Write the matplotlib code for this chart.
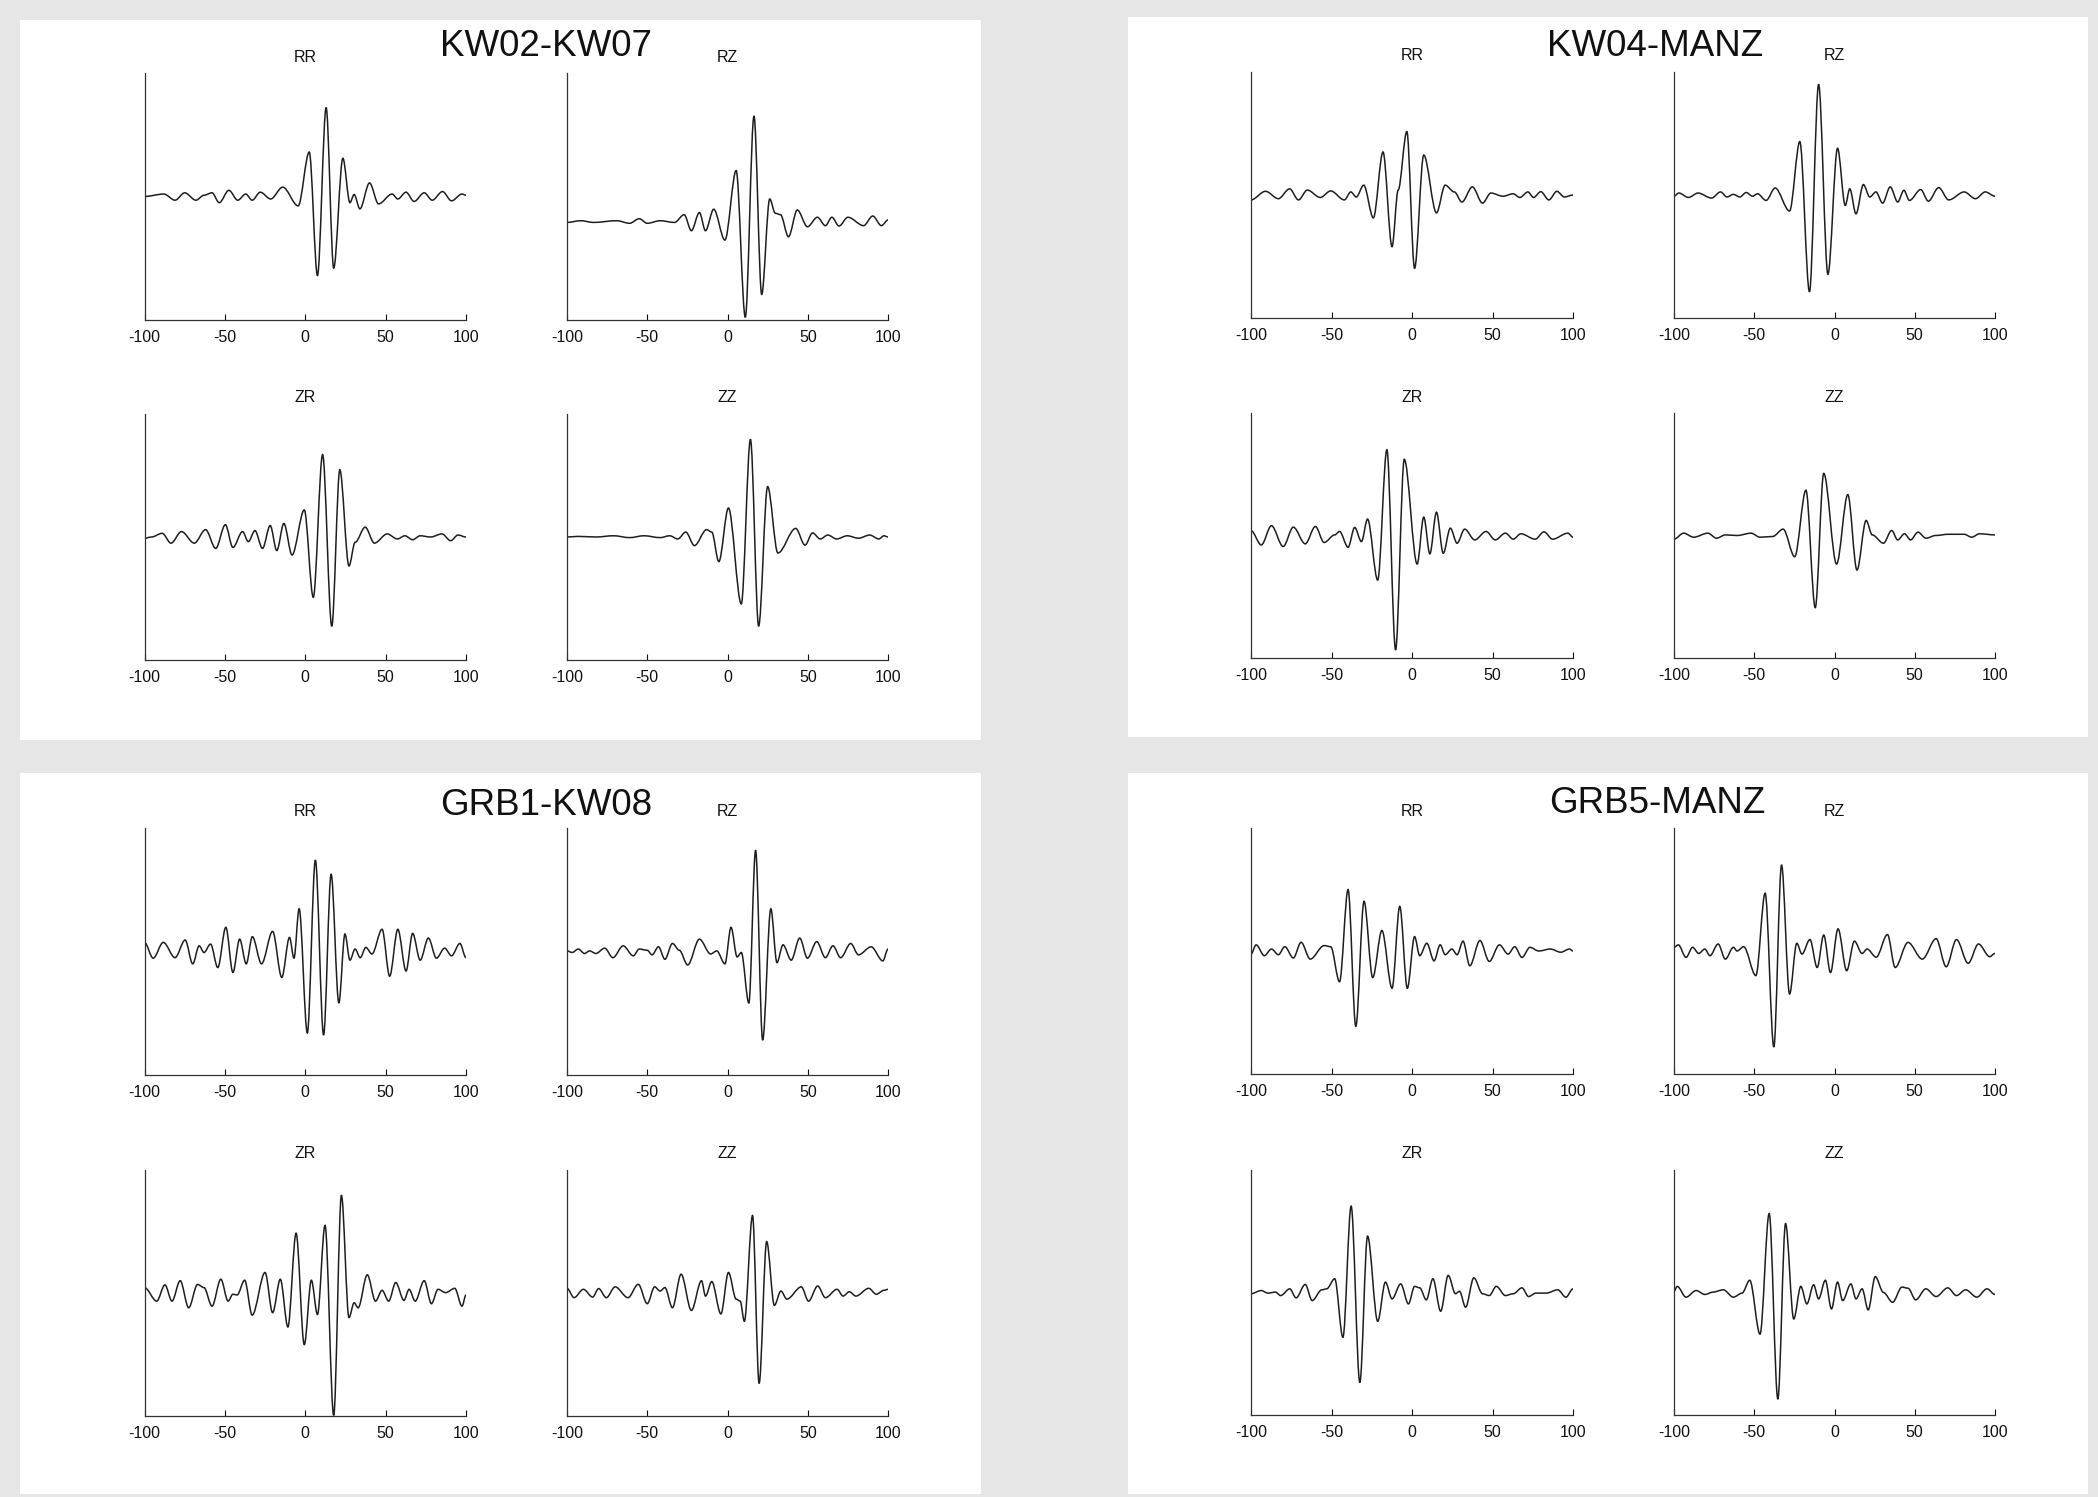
import matplotlib
matplotlib.use("Agg")
import matplotlib.pyplot as plt
from matplotlib.patches import Rectangle, PathPatch
from matplotlib.path import Path

plt.rcParams["font.family"] = ["Liberation Sans", "DejaVu Sans"]

# ── data: extrema of each cross-correlation trace (lag s, normalised amp) ──

pair_names = ["KW02-KW07", "KW04-MANZ", "GRB1-KW08", "GRB5-MANZ"]
comp_names = ["RR", "RZ", "ZR", "ZZ"]

kw02_kw07_rr_t = [-100, -88, -81, -75, -68, -63, -58, -53.5, -47.5, -42, -37, -33, -28, -21.5, -14, -4.4,
                  2.5, 7.6, 13, 17.7, 23.4, 27.8, 30.4, 34, 40, 45.6, 54, 57.6, 62.7, 67.7, 74, 79, 85.4, 91, 97.5, 100]
kw02_kw07_rr_a = [0, 0.02, -0.03, 0.03, -0.03, 0.01, 0.03, -0.05, 0.05, -0.03, 0.02, -0.03, 0.035, -0.02, 0.076, -0.076,
                  0.36, -0.64, 0.72, -0.58, 0.31, -0.05, 0.016, -0.10, 0.11, -0.06, 0.02, -0.02, 0.035, -0.04, 0.03, -0.03, 0.04, -0.035, 0.02, 0.01]

kw02_kw07_rz_t = [-100, -91.4, -83.5, -69, -61, -55, -50, -42, -33, -27, -22.5, -17.5, -13.7, -8.6, -1.6, 5.4, 11.1,
                  16.5, 21.3, 26.3, 29.8, 33, 38, 43.5, 49.8, 56, 61, 65, 69.5, 75, 84.8, 90.5, 95.9, 100]
kw02_kw07_rz_a = [-0.21, -0.196, -0.21, -0.196, -0.217, -0.18, -0.217, -0.196, -0.21, -0.147, -0.277, -0.13, -0.277, -0.103, -0.353, 0.21, -0.978,
                  0.652, -0.793, -0.02, -0.136, -0.147, -0.326, -0.109, -0.245, -0.168, -0.236, -0.168, -0.239, -0.168, -0.236, -0.158, -0.236, -0.19]

kw02_kw07_zr_t = [-100, -95.6, -89, -83.5, -77, -69, -62, -55.7, -49.7, -45, -39, -35.4, -31.3, -26.6, -21.8, -17.7, -13.3, -8.2,
                  -0.6, 5, 10.8, 16.5, 21.5, 27.2, 31, 37.3, 43, 51, 57.3, 62, 66.8, 71.5, 78, 85, 90.5, 95, 100]
kw02_kw07_zr_a = [-0.01, 0, 0.03, -0.05, 0.044, -0.05, 0.06, -0.093, 0.1, -0.085, 0.044, -0.038, 0.052, -0.093, 0.093, -0.11, 0.11, -0.146,
                  0.22, -0.49, 0.67, -0.725, 0.547, -0.236, -0.044, 0.08, -0.05, 0.025, -0.016, 0.01, -0.022, 0.01, 0, 0.025, -0.03, 0.016, 0]

kw02_kw07_zz_t = [-100, -93, -82, -71, -61, -52, -42, -36, -31, -26, -20.6, -13, -9.8, -5.4, 0.6, 8.6, 14.3, 19.4, 25,
                  31.4, 42.5, 48.3, 53, 57.8, 62.5, 68, 74.6, 81.6, 88.6, 94.3, 97.5, 100]
kw02_kw07_zz_a = [0, 0.005, 0, 0.01, -0.005, 0.01, -0.005, 0.01, -0.016, 0.04, -0.07, 0.06, 0.04, -0.2, 0.236, -0.544, 0.794, -0.725, 0.41,
                  -0.13, 0.07, -0.066, 0.033, -0.016, 0.016, -0.016, 0.01, -0.01, 0.016, -0.016, 0.01, 0]

kw04_manz_rr_t = [-100, -91, -83, -76, -70.5, -65, -57, -50.5, -42, -38, -34.6, -30, -24, -18, -12.4, -8.6, -3.2, 1.6, 7.3,
                  15.2, 20.6, 26.3, 31, 37.5, 43.8, 49, 56.5, 62.8, 67, 72, 75.5, 80, 85, 90, 94.6, 100]
kw04_manz_rr_a = [-0.04, 0.03, -0.03, 0.05, -0.04, 0.04, -0.02, 0.033, -0.04, 0.025, -0.016, 0.08, -0.186, 0.35, -0.42, 0.04, 0.516, -0.596, 0.325,
                  -0.145, 0.08, 0.025, -0.057, 0.066, -0.066, 0.016, -0.01, 0.01, -0.02, 0.025, -0.02, 0.027, -0.04, 0.03, -0.016, 0]

kw04_manz_rz_t = [-100, -97, -91, -85, -76.6, -71, -67, -63, -59, -55, -51, -48, -42.6, -37, -28, -21.6, -15.6, -9.9, -4.1, 1.9,
                  6.7, 9.5, 13.4, 18, 22, 25.8, 30, 34.7, 39.4, 43.2, 46.7, 53.7, 58.5, 64.9, 71.2, 80.8, 87.8, 94, 100]
kw04_manz_rz_a = [-0.01, 0.016, -0.02, 0.016, -0.025, 0.025, -0.016, 0.005, -0.016, 0.02, -0.01, 0.01, -0.044, 0.057, -0.13, 0.434, -0.787, 0.9, -0.645, 0.38,
                  -0.085, 0.05, -0.153, 0.085, -0.016, 0.025, -0.066, 0.066, -0.057, 0.038, -0.044, 0.044, -0.05, 0.06, -0.04, 0.025, -0.03, 0.025, -0.01]

kw04_manz_zr_t = [-100, -93.6, -87.3, -80, -73.7, -66.3, -60, -54.6, -48, -45, -39.7, -35.6, -31.4, -27.6, -21.3, -15.6, -10.2, -4.8,
                  3.2, 7.3, 11.1, 15.2, 19.4, 23.8, 28, 32.7, 39, 46, 51.7, 58, 62.9, 67.6, 76.5, 82, 87.3, 96.8, 100]
kw04_manz_zr_a = [0.04, -0.077, 0.08, -0.09, 0.068, -0.068, 0.074, -0.057, 0.005, 0.033, -0.096, 0.066, -0.05, 0.134, -0.364, 0.7, -0.934, 0.622,
                  -0.233, 0.15, -0.15, 0.19, -0.145, 0.06, -0.063, 0.052, -0.036, 0.033, -0.036, 0.019, -0.03, 0.014, -0.03, 0.03, -0.03, 0.019, -0.014]

kw04_manz_zz_t = [-100, -94, -87.8, -78.9, -73.5, -68, -60.7, -52, -46.4, -38.5, -32, -24.8, -17.8, -12, -6.7, 1.3, 8.3, 14,
                  19.7, 23.5, 30.5, 35.6, 39.4, 43.6, 47.4, 52, 57, 63, 71, 80.8, 85.5, 90.3, 100]
kw04_manz_zz_a = [-0.03, 0.019, -0.014, 0.019, -0.022, 0.005, 0, 0.019, -0.014, -0.008, 0.052, -0.173, 0.37, -0.589, 0.507, -0.233, 0.334, -0.282,
                  0.123, 0.005, -0.063, 0.041, -0.036, 0.014, -0.036, 0.027, -0.022, 0, 0.01, 0.01, -0.014, 0.014, 0.005]

grb1_kw08_rr_t = [-100, -94.6, -88.3, -81, -74.7, -70, -66, -63, -58.9, -54.4, -49.4, -45, -40.8, -36.7, -32.9, -27.2, -20.3, -14.6, -9.8, -7, -3.8,
                  1.3, 6.3, 11.4, 16.1, 20.9, 24.7, 27.8, 31, 34.2, 37.7, 41.5, 47.8, 52.5, 57.6, 62.7, 66.8, 71.5, 76.6, 81.6, 86.7, 91, 96.2, 100]
grb1_kw08_rr_a = [0.074, -0.054, 0.074, -0.05, 0.093, -0.1, 0.046, -0.008, 0.06, -0.13, 0.196, -0.17, 0.1, -0.1, 0.12, -0.1, 0.163, -0.21, 0.114, -0.054, 0.346,
                  -0.66, 0.74, -0.676, 0.627, -0.417, 0.142, -0.07, 0.02, -0.05, 0.033, -0.02, 0.18, -0.2, 0.18, -0.158, 0.147, -0.07, 0.109, -0.054, 0.027, -0.035, 0.065, -0.05]

grb1_kw08_rz_t = [-100, -96.8, -93, -89, -86, -82, -76.5, -71.4, -65, -58.7, -55, -50, -47, -43, -39, -34.3, -30, -24.8, -17.5, -10.5, -6.7, -1.6, 2.2,
                  6, 8.6, 13.3, 17.5, 21.9, 27, 30.8, 34.6, 39.7, 45, 49.8, 55.6, 61, 65.7, 70.5, 76.8, 81.6, 89.5, 96.8, 100]
grb1_kw08_rz_a = [0.005, -0.008, 0.02, -0.016, 0.005, -0.016, 0.027, -0.05, 0.046, -0.035, 0.02, 0.01, -0.027, 0.038, -0.063, 0.065, 0.01, -0.109, 0.1, -0.02, 0.005, -0.1, 0.196,
                  -0.044, -0.008, -0.417, 0.82, -0.717, 0.346, -0.09, 0.054, -0.07, 0.109, -0.054, 0.08, -0.05, 0.046, -0.05, 0.065, -0.027, 0.038, -0.076, 0.02]

grb1_kw08_zr_t = [-100, -92.4, -87.3, -82.9, -77.8, -72.5, -67, -63, -58, -52.5, -48, -45, -42.4, -37.7, -33, -25, -20.3, -15.5, -10.8, -5.7, -0.6,
                  3.8, 7.6, 12.3, 17.7, 22.5, 27.2, 30.4, 32.9, 38.6, 43.7, 47.8, 51.9, 56.3, 61.4, 64.6, 68.4, 74, 78.5, 82.6, 87.3, 93, 97.5, 100]
grb1_kw08_zr_a = [0.044, -0.066, 0.066, -0.066, 0.1, -0.12, 0.07, 0.044, -0.107, 0.112, -0.066, -0.01, -0.016, 0.104, -0.18, 0.167, -0.16, 0.112, -0.276, 0.486, -0.42,
                  0.104, -0.175, 0.55, -0.995, 0.795, -0.2, -0.08, -0.12, 0.148, -0.066, 0.022, -0.066, 0.085, -0.06, 0.03, -0.066, 0.1, -0.087, 0.03, 0.003, 0.038, -0.107, -0.016]

grb1_kw08_zz_t = [-100, -95.6, -89.8, -84, -80.3, -75.5, -70, -62, -55.6, -50, -45.4, -42, -39, -34.3, -28.9, -22.5, -16.2, -13.7, -9.8, -4.1, 0.6,
                  5.4, 7.9, 10.5, 15.6, 19.7, 24.4, 29.2, 33.3, 37, 46, 50.5, 56.2, 61, 68.3, 72, 75.9, 80, 88, 92.7, 97.5, 100]
grb1_kw08_zz_a = [0.038, -0.038, 0.03, -0.033, 0.036, -0.038, 0.05, -0.038, 0.071, -0.087, 0.05, 0.016, 0.044, -0.12, 0.153, -0.142, 0.1, -0.025, 0.093, -0.17, 0.167,
                  -0.05, -0.066, -0.23, 0.63, -0.735, 0.418, -0.1, 0.016, -0.05, 0.05, -0.066, 0.057, -0.038, 0.03, -0.025, 0.01, -0.025, 0.038, -0.01, 0.022, 0.03]

grb5_manz_rr_t = [-100, -96.8, -91.7, -87.3, -83, -79, -73.7, -68.9, -63.2, -54.6, -50.5, -45, -39.7, -34.9, -29.8, -24.4, -18.7, -12.4, -7.6, -2.9,
                  1.6, 4.8, 9.2, 13.7, 17.5, 20.6, 24.8, 28, 31.7, 35.9, 42.2, 48, 54.3, 59.7, 63.8, 68.3, 73.3, 78.7, 86, 92.4, 97.8, 100]
grb5_manz_rr_a = [-0.025, 0.05, -0.038, 0.016, -0.03, 0.035, -0.057, 0.071, -0.066, 0.044, 0.035, -0.25, 0.5, -0.612, 0.404, -0.216, 0.167, -0.303, 0.363, -0.303,
                  0.117, -0.038, 0.063, -0.08, 0.05, -0.03, 0.016, -0.03, 0.08, -0.12, 0.085, -0.085, 0.05, -0.025, 0.035, -0.052, 0.03, 0, 0.016, -0.01, 0.016, 0]

grb5_manz_rz_t = [-100, -97.3, -92.5, -88.4, -84.6, -80.8, -77.6, -72.5, -68, -63, -60.7, -56.6, -49, -43.2, -37.8, -33, -28, -23.5, -20.3, -15.3,
                  -10.8, -6.7, -2.5, 2.2, 7.6, 12.4, 17.2, 20.3, 26, 33, 37.8, 45.8, 54.7, 63.3, 69.6, 76, 83.3, 89.7, 96.7, 100]
grb5_manz_rz_a = [0.03, 0.05, -0.052, 0.03, -0.02, 0.016, -0.038, 0.057, -0.066, 0.03, 0, 0.035, -0.2, 0.47, -0.78, 0.7, -0.35, 0.063, -0.025, 0.093,
                  -0.134, 0.13, -0.175, 0.18, -0.16, 0.08, -0.02, 0.016, -0.05, 0.134, -0.134, 0.07, -0.066, 0.1, -0.128, 0.093, -0.1, 0.057, -0.046, -0.02]

grb5_manz_zr_t = [-100, -93.7, -89.5, -84.8, -81.6, -75.9, -72, -66.3, -62, -56, -53, -48, -42.9, -37.8, -32.4, -27.6, -21.3, -16.5, -12.4, -7, -2.2,
                  1.6, 4.8, 8.9, 13, 17.8, 22.5, 27, 29.5, 33.3, 38.4, 43.8, 48, 52.4, 58, 62.9, 68.3, 72.4, 77, 83.5, 90.5, 95.6, 100]
grb5_manz_zr_a = [-0.01, 0.016, -0.005, 0.003, -0.025, 0.03, -0.044, 0.066, -0.066, 0.022, 0.03, 0.112, -0.366, 0.705, -0.735, 0.46, -0.235, 0.085, -0.052, 0.07, -0.093,
                  0.05, 0.038, -0.06, 0.112, -0.153, 0.14, -0.01, 0.01, -0.12, 0.12, -0.01, -0.025, 0.05, -0.025, -0.01, 0.038, -0.033, -0.005, -0.005, 0.022, -0.038, 0.03]

grb5_manz_zz_t = [-100, -98, -92.5, -86.2, -80.8, -75.7, -69.3, -63, -57.6, -52.8, -46.4, -40.7, -35.3, -30.5, -25.4, -21, -17.2, -13, -9.9, -5.7, -1.9,
                  1.9, 5.1, 10.2, 13.4, 17.2, 21, 25.4, 30.5, 36.2, 42, 45.8, 50.6, 56.9, 63.3, 70.6, 76, 81.7, 88.7, 95, 100]
grb5_manz_zz_a = [0.01, 0.05, -0.038, 0.016, -0.016, 0.003, 0.022, -0.038, -0.005, 0.1, -0.34, 0.645, -0.87, 0.563, -0.216, 0.05, -0.093, 0.063, -0.052, 0.1, -0.134,
                  0.085, -0.066, 0.07, -0.052, 0.03, -0.142, 0.13, 0, -0.08, 0.044, 0.035, -0.06, 0.03, -0.033, 0.038, -0.025, 0.022, -0.038, 0.03, -0.016]

x_ticks = [-100, -50, 0, 50, 100]
x_tick_labels = ["-100", "-50", "0", "50", "100"]

traces = {
    "KW02-KW07": [(kw02_kw07_rr_t, kw02_kw07_rr_a), (kw02_kw07_rz_t, kw02_kw07_rz_a),
                  (kw02_kw07_zr_t, kw02_kw07_zr_a), (kw02_kw07_zz_t, kw02_kw07_zz_a)],
    "KW04-MANZ": [(kw04_manz_rr_t, kw04_manz_rr_a), (kw04_manz_rz_t, kw04_manz_rz_a),
                  (kw04_manz_zr_t, kw04_manz_zr_a), (kw04_manz_zz_t, kw04_manz_zz_a)],
    "GRB1-KW08": [(grb1_kw08_rr_t, grb1_kw08_rr_a), (grb1_kw08_rz_t, grb1_kw08_rz_a),
                  (grb1_kw08_zr_t, grb1_kw08_zr_a), (grb1_kw08_zz_t, grb1_kw08_zz_a)],
    "GRB5-MANZ": [(grb5_manz_rr_t, grb5_manz_rr_a), (grb5_manz_rz_t, grb5_manz_rz_a),
                  (grb5_manz_zr_t, grb5_manz_zr_a), (grb5_manz_zz_t, grb5_manz_zz_a)],
}

# ── layout (pixels) ──────────────────────────────────────────
W, H = 2098, 1497

# panel box: left, top, right, bottom; col x-ranges; row y-ranges; title centre
panels = {
    "KW02-KW07": dict(box=(20, 20, 981, 740), cols=[(144.5, 466), (567, 888)],
                      rows=[(73, 320), (414, 660)], title=(546, 47)),
    "KW04-MANZ": dict(box=(1128, 17, 2088, 737), cols=[(1251, 1573), (1674, 1995)],
                      rows=[(72, 318), (413, 658)], title=(1655, 47)),
    "GRB1-KW08": dict(box=(20, 773, 981, 1494), cols=[(144.5, 466), (567, 888)],
                      rows=[(828, 1075), (1170, 1416)], title=(546, 806)),
    "GRB5-MANZ": dict(box=(1128, 773, 2088, 1494), cols=[(1251, 1573), (1674, 1995)],
                      rows=[(828, 1074), (1170, 1415)], title=(1657, 803)),
}


def fx(x):
    return x / W


def fy(y):
    return 1 - y / H


def smooth_trace(ax, t, a):
    """Draw the extrema as a smooth wiggle: cubic segments with flat tangents at each extremum."""
    verts = [(t[0], a[0])]
    codes = [Path.MOVETO]
    for i in range(1, len(t)):
        d = (t[i] - t[i - 1]) / 3.0
        verts += [(t[i - 1] + d, a[i - 1]), (t[i] - d, a[i]), (t[i], a[i])]
        codes += [Path.CURVE4] * 3
    ax.add_patch(PathPatch(Path(verts, codes), facecolor="none",
                           edgecolor="#1e1e1e", lw=1.1))


fig = plt.figure(figsize=(W / 100, H / 100), dpi=100)
fig.patch.set_facecolor("#e6e6e6")

for name in pair_names:
    p = panels[name]
    l, t, r, b = p["box"]
    fig.patches.append(Rectangle((fx(l), fy(b)), fx(r - l), (b - t) / H,
                                 transform=fig.transFigure, facecolor="white",
                                 edgecolor="none", zorder=-5))
    fig.text(fx(p["title"][0]), fy(p["title"][1]), name, ha="center", va="center",
             fontsize=26.5, color="#111111")

    for k, comp in enumerate(comp_names):
        xl, xr = p["cols"][k % 2]
        yt, yb = p["rows"][k // 2]
        ax = fig.add_axes([fx(xl), fy(yb), fx(xr - xl), (yb - yt) / H])
        ax.set_zorder(2)
        ax.patch.set_alpha(0)
        tt, aa = traces[name][k]
        smooth_trace(ax, tt, aa)
        ax.set_xlim(-100, 100)
        ax.set_ylim(-1, 1)
        ax.set_xticks(x_ticks)
        ax.set_xticklabels(x_tick_labels, fontsize=11.5)
        ax.set_yticks([])
        ax.tick_params(axis="x", direction="in", length=4, width=0.8, pad=7, colors="#111111")
        for s in ["top", "right"]:
            ax.spines[s].set_visible(False)
        for s in ["left", "bottom"]:
            ax.spines[s].set_linewidth(0.9)
            ax.spines[s].set_color("#333333")
        fig.text(fx((xl + xr) / 2), fy(yt - 16), comp, ha="center", va="center",
                 fontsize=11.5, color="#111111")

fig.savefig("out.png", dpi=100, facecolor=fig.get_facecolor())
print("saved out.png")
